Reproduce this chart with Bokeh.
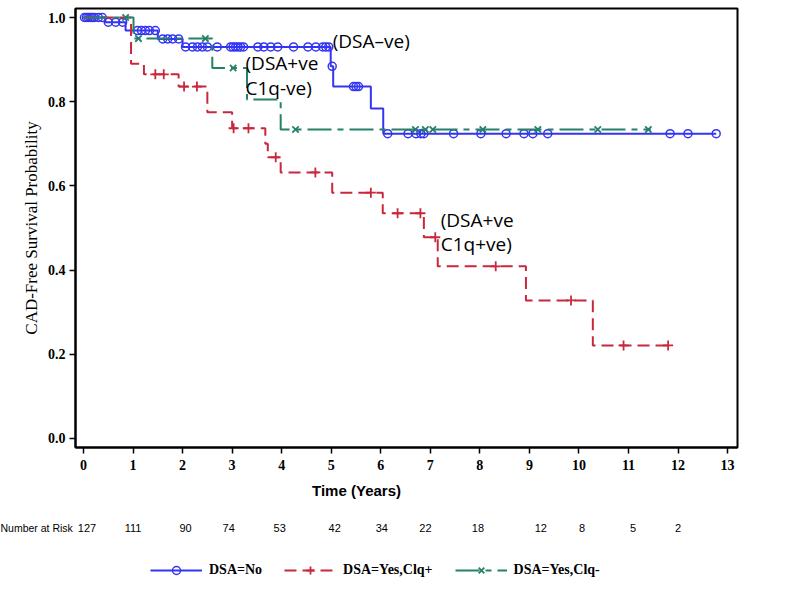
import numpy as np
from bokeh.plotting import figure
from bokeh.models import (Label, Legend, LegendItem,
                          FixedTicker, NumeralTickFormatter, Range1d)
from bokeh.core.properties import value
from bokeh.embed import file_html
from bokeh.resources import INLINE

# ---- Kaplan-Meier data ----
# DSA = No
no_t = [0.0, 0.44, 0.85, 1.50, 2.00, 4.99, 5.04, 5.80, 6.05, 12.77]
no_s = [1.0, 0.989, 0.969, 0.949, 0.930, 0.884, 0.836, 0.784, 0.724, 0.724]
no_cens = [0.02, 0.06, 0.10, 0.14, 0.18, 0.22, 0.30, 0.38,
           0.50, 0.65, 0.79,
           1.09, 1.17, 1.25, 1.33, 1.45,
           1.60, 1.70, 1.80, 1.92,
           2.06, 2.20, 2.30, 2.40, 2.50, 2.70, 2.97, 3.02, 3.07, 3.12, 3.17, 3.23,
           3.52, 3.64, 3.78, 3.92, 4.24, 4.53, 4.69, 4.83, 4.89, 4.95,
           5.02, 5.45, 5.50, 5.55,
           6.14, 6.55, 6.71, 6.81, 6.87, 7.47, 8.02, 8.53, 8.89, 9.07, 9.37,
           11.84, 12.20, 12.77]

# DSA = Yes, C1q+
pos_t = [0.0, 0.96, 1.22, 1.92, 2.50, 3.00, 3.67, 3.72, 3.98, 5.02, 6.04, 6.87,
         7.15, 8.93, 10.28, 11.90]
pos_s = [1.0, 0.890, 0.865, 0.836, 0.775, 0.737, 0.700, 0.668, 0.632, 0.584,
         0.535, 0.478, 0.409, 0.328, 0.221, 0.221]
pos_cens = [1.45, 1.62, 2.03, 2.29, 3.03, 3.33, 3.88, 4.68, 5.80, 6.34, 6.80,
            7.10, 8.32, 9.84, 10.90, 11.80]

# DSA = Yes, C1q-
neg_t = [0.0, 1.01, 2.60, 3.30, 3.98, 11.45]
neg_s = [1.0, 0.950, 0.880, 0.805, 0.734, 0.734]
neg_cens = [0.85, 1.11, 2.46, 3.02, 4.28, 6.70, 6.90, 7.05, 8.06, 9.17, 10.38, 11.40]

# Number at risk
risk_times = [0.07, 1.0, 2.06, 2.93, 3.96, 5.07, 6.02, 6.90, 7.96, 9.23, 10.06, 11.09, 12.0]
risk_counts = ["127", "111", "90", "74", "53", "42", "34", "22", "18", "12", "8", "5", "2"]

x_ticks = list(range(0, 14))
y_ticks = [0.0, 0.2, 0.4, 0.6, 0.8, 1.0]

BLUE = "#3434F4"
RED = "#C8283C"
GREEN = "#25806A"

PX_PER_YEAR = 49.55
W = 798


def level_at(times, surv, c):
    idx = np.searchsorted(np.asarray(times), np.asarray(c), side="right") - 1
    return list(np.asarray(surv)[idx])


# ---------------- main plot ----------------
p = figure(width=W, height=478, output_backend="svg", toolbar_location=None,
           x_range=Range1d(-0.161, 13.2), y_range=Range1d(-0.0214, 1.0214),
           min_border_left=75, min_border_right=W - 737, min_border_top=8,
           min_border_bottom=31)
p.grid.visible = False
p.outline_line_color = "black"
p.outline_line_width = 2
p.background_fill_color = "white"
p.border_fill_color = "white"

bl = p.step(no_t, no_s, mode="after", line_color=BLUE, line_width=2)
bm = p.scatter(no_cens, level_at(no_t, no_s, no_cens), marker="circle", size=8,
               line_color=BLUE, fill_alpha=0, line_width=1.5)

rl = p.step(pos_t, pos_s, mode="after", line_color=RED, line_width=2,
            line_dash="12 6")
rm = p.scatter(pos_cens, level_at(pos_t, pos_s, pos_cens), marker="cross", size=10,
               line_color=RED, line_width=1.8)

gl = p.step(neg_t, neg_s, mode="after", line_color=GREEN, line_width=2,
            line_dash="24 6 6 6")
gm = p.scatter(neg_cens, level_at(neg_t, neg_s, neg_cens), marker="x", size=9,
               line_color=GREEN, line_width=1.8)

p.xaxis.ticker = FixedTicker(ticks=x_ticks)
p.yaxis.ticker = FixedTicker(ticks=y_ticks)
p.yaxis.formatter = NumeralTickFormatter(format="0.0")
for ax in (p.xaxis, p.yaxis):
    ax.axis_line_width = 2
    ax.axis_line_color = "black"
    ax.major_tick_line_width = 1.5
    ax.major_tick_line_color = "black"
    ax.major_tick_out = 6
    ax.major_tick_in = 0
    ax.minor_tick_out = 0
    ax.minor_tick_in = 0
    ax.major_label_text_font = "Liberation Serif"
    ax.major_label_text_font_style = "bold"
    ax.major_label_text_color = "black"
    ax.major_label_text_font_size = "14px"
p.xaxis.major_label_standoff = 6
p.yaxis.major_label_standoff = 4
p.yaxis.axis_label = "CAD-Free Survival Probability"
p.yaxis.axis_label_text_font = "Liberation Serif"
p.yaxis.axis_label_text_font_style = "normal"
p.yaxis.axis_label_text_font_size = "17px"
p.yaxis.axis_label_text_color = "black"
p.yaxis.axis_label_standoff = 4

ann_font = "Open Sans"
for (tx, ty, txt) in [(5.03, 0.945, "(DSA\u2013ve)"),
                      (3.27, 0.891, "(DSA+ve"), (3.27, 0.833, "C1q-ve)"),
                      (7.21, 0.518, "(DSA+ve"), (7.21, 0.463, "C1q+ve)")]:
    p.add_layout(Label(x=tx, y=ty, text=txt, text_align="left",
                       text_baseline="middle", text_font=ann_font,
                       text_font_size="19px", text_color="black"))

# ---------------- lower panel: axis title, number at risk, legend ----------------
H2 = 122
p2 = figure(width=W, height=H2, output_backend="svg", toolbar_location=None,
            x_range=Range1d(-83 / PX_PER_YEAR, (W - 83) / PX_PER_YEAR),
            y_range=Range1d(0, H2), x_axis_type=None, y_axis_type=None,
            min_border=0, min_border_left=0, min_border_right=0,
            min_border_top=0, min_border_bottom=0)
p2.grid.visible = False
p2.outline_line_color = None
p2.background_fill_color = "white"
p2.border_fill_color = "white"

p2.text(x=[5.51], y=[110], text=["Time (Years)"], text_align="center",
        text_baseline="middle", text_font=value("Liberation Sans"),
        text_font_style="bold", text_font_size="15px", text_color="black")

p2.text(x=risk_times, y=[73] * len(risk_times), text=risk_counts,
        text_align="center", text_baseline="middle",
        text_font=value("Liberation Sans"), text_font_size="11px",
        text_color="black")
p2.text(x=[-1.675], y=[73], text=["Number at Risk"], text_align="left",
        text_baseline="middle", text_font=value("Liberation Sans"),
        text_font_size="10.5px", text_color="black")

# legend proxies (drawn outside the visible range; only used by the legend)
px = [-50, -49]
py = [-50, -50]
lb = p2.line(px, py, line_color=BLUE, line_width=2)
lbm = p2.scatter(px, py, marker="circle", size=8, line_color=BLUE, fill_alpha=0,
                 line_width=1.5)
lr = p2.line(px, py, line_color=RED, line_width=2, line_dash="12 6")
lrm = p2.scatter(px, py, marker="cross", size=10, line_color=RED, line_width=1.8)
lg = p2.line(px, py, line_color=GREEN, line_width=2, line_dash="24 6 6 6")
lgm = p2.scatter(px, py, marker="x", size=9, line_color=GREEN, line_width=1.8)

legend = Legend(items=[LegendItem(label="DSA=No", renderers=[lb, lbm]),
                       LegendItem(label="DSA=Yes,Clq+", renderers=[lr, lrm]),
                       LegendItem(label="DSA=Yes,Clq-", renderers=[lg, lgm])],
                orientation="horizontal", location=(150, 20),
                glyph_width=52, glyph_height=20, label_height=20,
                label_standoff=7, spacing=22, padding=0, margin=0,
                border_line_color=None, background_fill_alpha=0,
                label_text_font="Liberation Serif", label_text_font_style="bold",
                label_text_font_size="14px", label_text_color="black")
p2.add_layout(legend, "center")

open("out.html", "w").write(file_html([p, p2], INLINE))
